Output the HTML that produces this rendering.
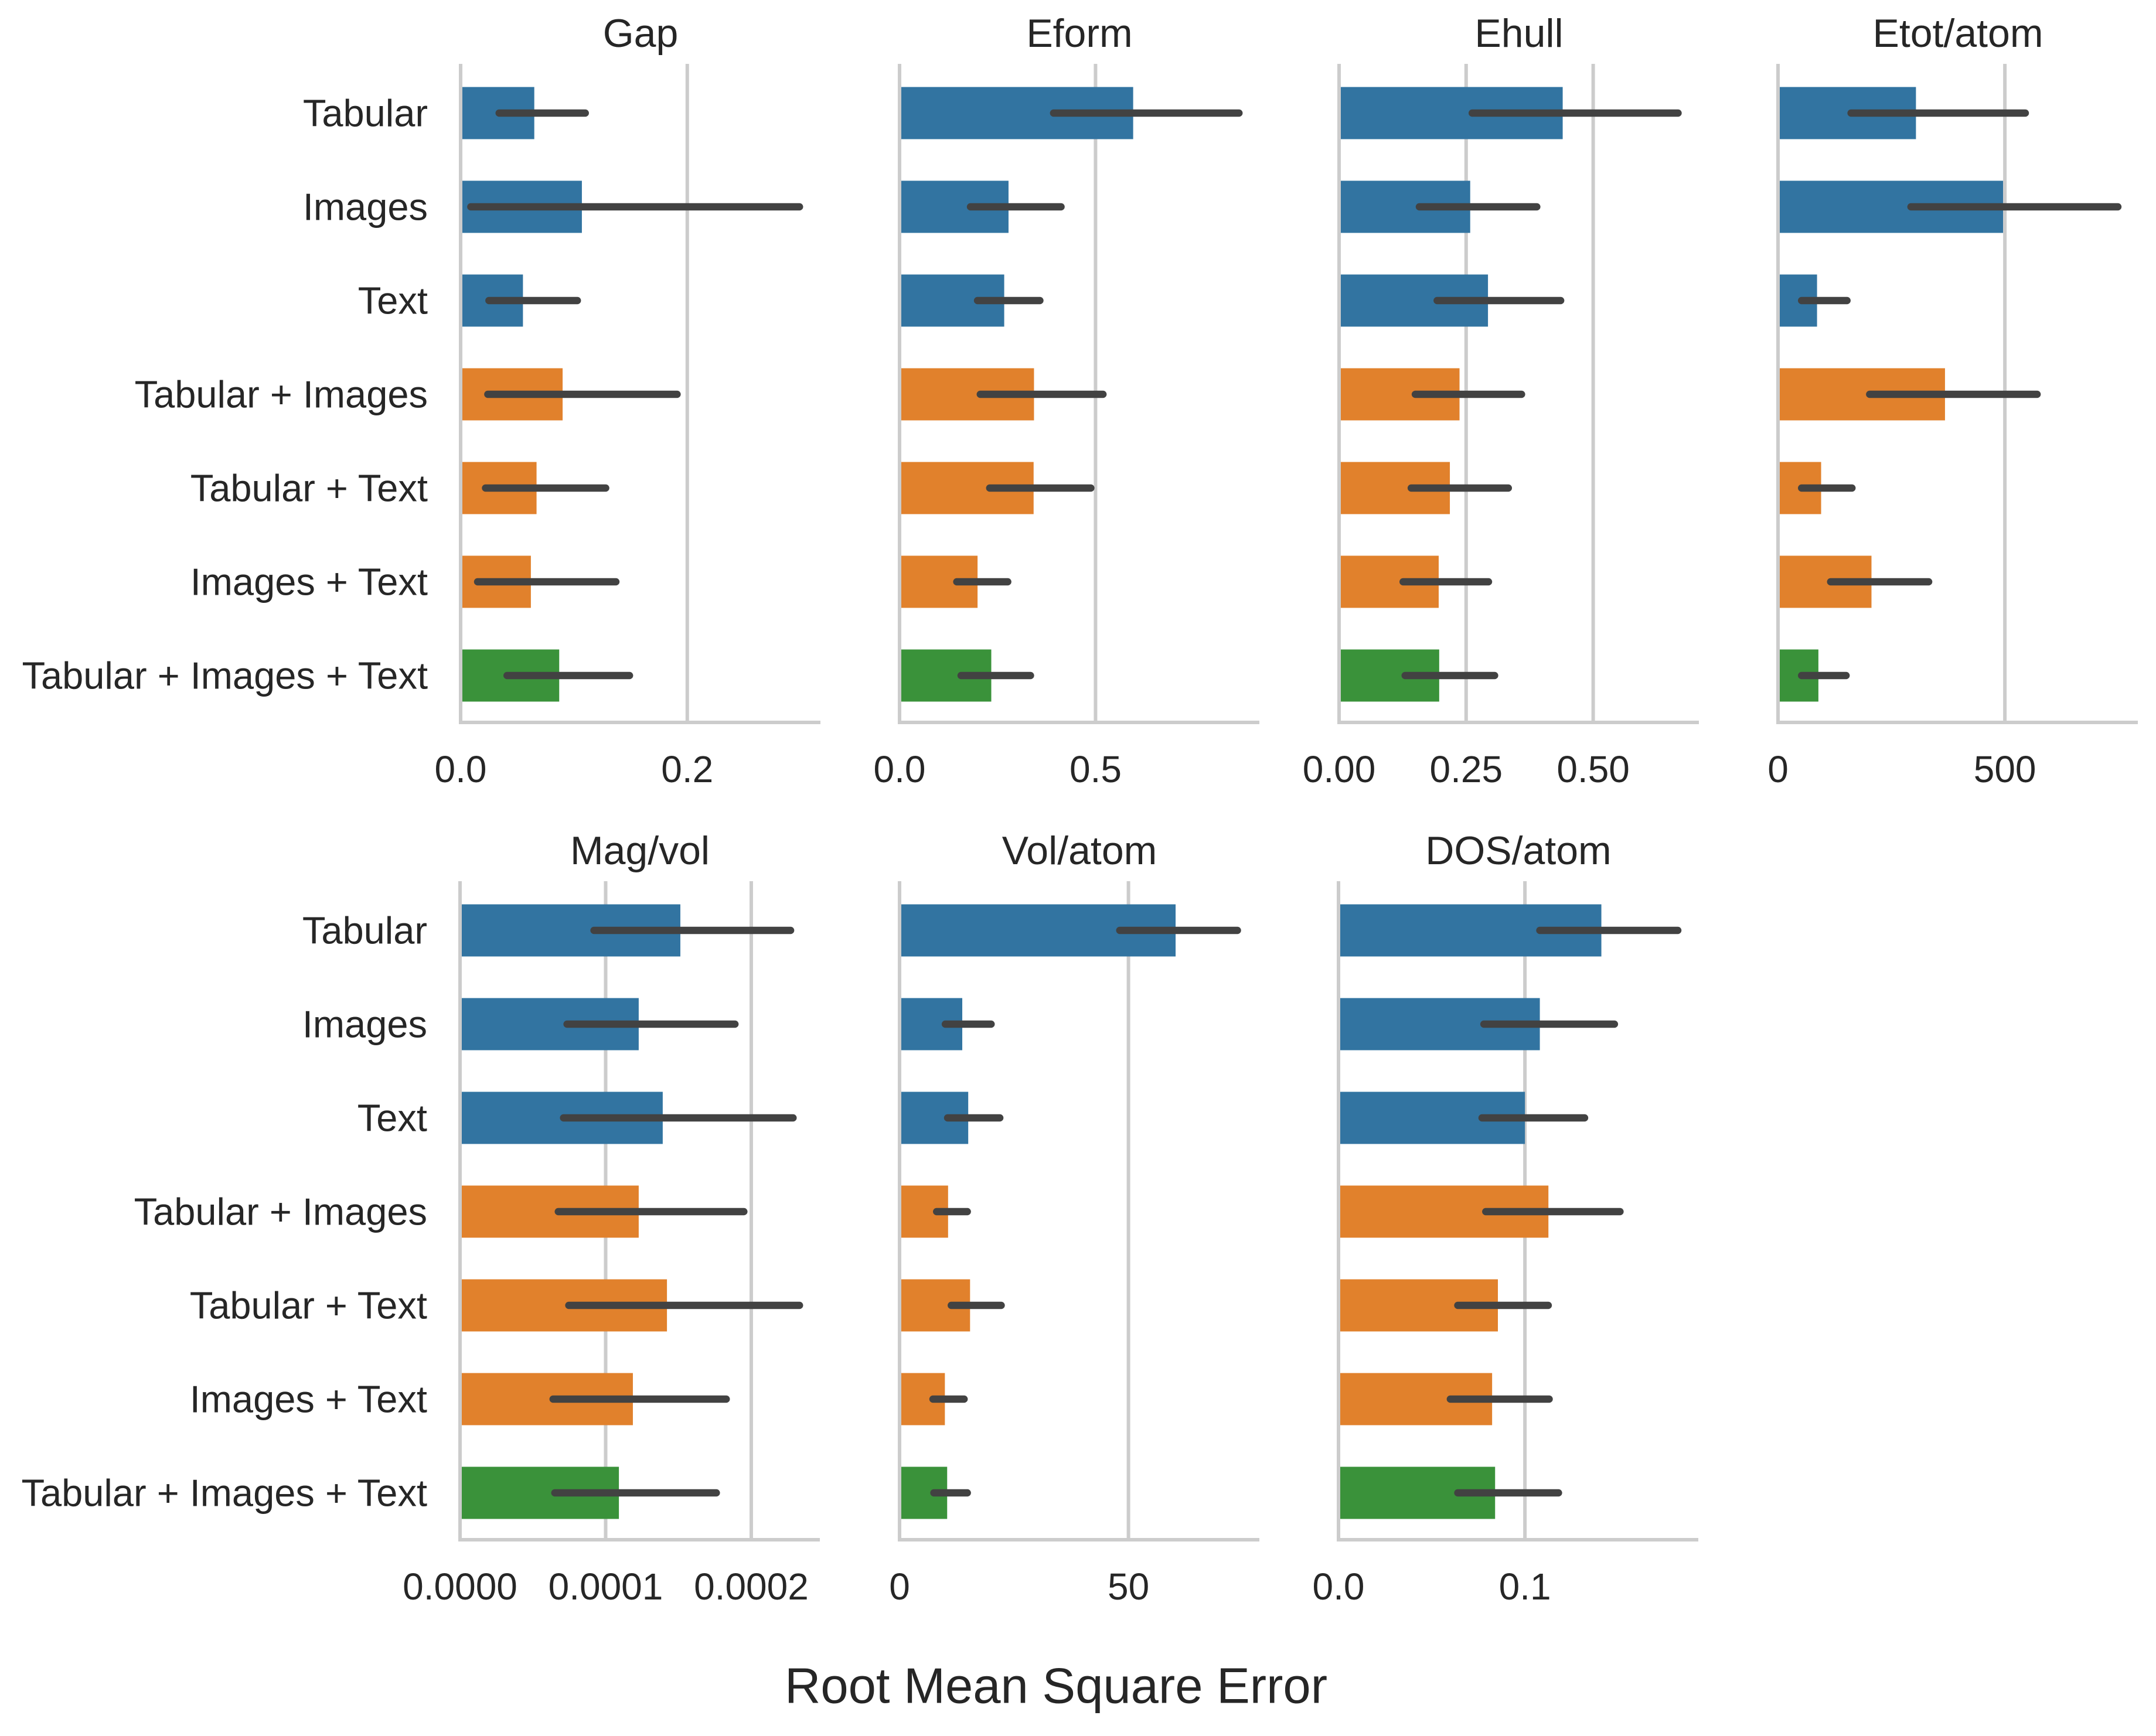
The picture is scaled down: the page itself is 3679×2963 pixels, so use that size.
<!DOCTYPE html>
<html>
<head>
<meta charset="utf-8">
<style>
html,body{margin:0;padding:0;background:#fff;}
svg{display:block;}
text{font-family:"Liberation Sans",Arial,sans-serif;fill:#262626;}
</style>
</head>
<body>
<svg id="chart" width="3679" height="2963" viewBox="0 0 3679 2963" xmlns="http://www.w3.org/2000/svg">
<text x="1802" y="2878" font-size="85" text-anchor="middle" dominant-baseline="central">Root Mean Square Error</text>
</svg>
<script>
const categories = ["Tabular","Images","Text","Tabular + Images","Tabular + Text","Images + Text","Tabular + Images + Text"];
const groups = [0,0,0,1,1,1,2];
const groupColors = ["#3274a1","#e1812c","#3a923a"];

const panelTitles = ["Gap","Eform","Ehull","Etot/atom","Mag/vol","Vol/atom","DOS/atom"];

const gapMeans = [0.065,0.107,0.055,0.090,0.067,0.062,0.087];
const gapLo    = [0.034,0.009,0.025,0.024,0.022,0.015,0.041];
const gapHi    = [0.110,0.299,0.103,0.191,0.128,0.137,0.149];

const eformMeans = [0.596,0.278,0.267,0.343,0.342,0.199,0.234];
const eformLo    = [0.393,0.181,0.199,0.206,0.230,0.146,0.157];
const eformHi    = [0.866,0.412,0.358,0.519,0.488,0.276,0.334];

const ehullMeans = [0.440,0.258,0.293,0.237,0.218,0.196,0.197];
const ehullLo    = [0.262,0.158,0.193,0.150,0.142,0.126,0.130];
const ehullHi    = [0.667,0.389,0.436,0.359,0.333,0.294,0.306];

const etotMeans = [304,496,86,368,95,206,89];
const etotLo    = [161,293,52,202,52,116,52];
const etotHi    = [545,749,152,571,163,332,150];

const magMeans = [1.513e-4,1.227e-4,1.392e-4,1.227e-4,1.421e-4,1.187e-4,1.091e-4];
const magLo    = [0.92e-4,0.735e-4,0.711e-4,0.675e-4,0.747e-4,0.639e-4,0.651e-4];
const magHi    = [2.27e-4,1.888e-4,2.287e-4,1.949e-4,2.331e-4,1.828e-4,1.76e-4];

const volMeans = [60.3,13.7,15.0,10.6,15.4,9.9,10.4];
const volLo    = [48.1,10.0,10.5,8.1,11.3,7.3,7.5];
const volHi    = [73.8,20.0,21.9,14.8,22.2,14.1,14.8];

const dosMeans = [0.141,0.108,0.100,0.1126,0.0855,0.0824,0.084];
const dosLo    = [0.108,0.078,0.077,0.079,0.064,0.060,0.064];
const dosHi    = [0.182,0.148,0.132,0.151,0.1125,0.113,0.118];

const gapTicks = [0,0.2];
const gapTickLabels = ["0.0","0.2"];
const eformTicks = [0,0.5];
const eformTickLabels = ["0.0","0.5"];
const ehullTicks = [0,0.25,0.5];
const ehullTickLabels = ["0.00","0.25","0.50"];
const etotTicks = [0,500];
const etotTickLabels = ["0","500"];
const magTicks = [0,0.0001,0.0002];
const magTickLabels = ["0.0000","0.0001","0.0002"];
const volTicks = [0,50];
const volTickLabels = ["0","50"];
const dosTicks = [0,0.1];
const dosTickLabels = ["0.0","0.1"];

const axisMax = [0.3175,0.918,0.708,793,2.471e-4,78.6,0.193];

const panels = [
  {means:gapMeans,lo:gapLo,hi:gapHi,ticks:gapTicks,labels:gapTickLabels,x0:786,y0:113,showY:true},
  {means:eformMeans,lo:eformLo,hi:eformHi,ticks:eformTicks,labels:eformTickLabels,x0:1535,y0:113,showY:false},
  {means:ehullMeans,lo:ehullLo,hi:ehullHi,ticks:ehullTicks,labels:ehullTickLabels,x0:2285,y0:113,showY:false},
  {means:etotMeans,lo:etotLo,hi:etotHi,ticks:etotTicks,labels:etotTickLabels,x0:3034,y0:113,showY:false},
  {means:magMeans,lo:magLo,hi:magHi,ticks:magTicks,labels:magTickLabels,x0:785,y0:1508,showY:true},
  {means:volMeans,lo:volLo,hi:volHi,ticks:volTicks,labels:volTickLabels,x0:1535,y0:1508,showY:false},
  {means:dosMeans,lo:dosLo,hi:dosHi,ticks:dosTicks,labels:dosTickLabels,x0:2284,y0:1508,showY:false}
];

const NS = "http://www.w3.org/2000/svg";
const svg = document.getElementById("chart");
const W = 614, BAND = 160, BARH = 89;
function mk(tag, attrs, parent){
  const e = document.createElementNS(NS, tag);
  for (const k in attrs) e.setAttribute(k, attrs[k]);
  (parent||svg).appendChild(e);
  return e;
}

panels.forEach((p, pi) => {
  const g = mk("g", {});
  
  
  const xs = v => p.x0 + v / axisMax[pi] * W;
  const yc = i => p.y0 + BAND/2 + i*BAND;
  const yBottom = p.y0 + 7*BAND;

  p.ticks.forEach((t, ti) => {
    const x = xs(t);
    if (t !== 0) {
      const gl = mk("line", {x1:x, x2:x, y1:p.y0-4, y2:yBottom, stroke:"#cccccc", "stroke-width":6}, g);
      
      
    }
    const tl = mk("text", {x:x, y:yBottom+80, "font-size":64, "text-anchor":"middle", "dominant-baseline":"central"}, g);
    tl.textContent = p.labels[ti];
    
    
  });

  const tt = mk("text", {x:p.x0 + W/2, y:p.y0-56, "font-size":68, "text-anchor":"middle", "dominant-baseline":"central"}, g);
  tt.textContent = panelTitles[pi];
  
  

  p.means.forEach((m, i) => {
    const r = mk("rect", {x:xs(0), y:yc(i)-BARH/2, width:xs(m)-xs(0), height:BARH, fill:groupColors[groups[i]]}, g);
    
    
  });
  p.means.forEach((m, i) => {
    const l = mk("line", {x1:xs(p.lo[i]), x2:xs(p.hi[i]), y1:yc(i), y2:yc(i), stroke:"#424242", "stroke-width":12.5, "stroke-linecap":"round"}, g);
    
    
  });

  const ls = mk("line", {x1:p.x0, x2:p.x0, y1:p.y0-4, y2:yBottom+3, stroke:"#cccccc", "stroke-width":6}, g);
  
  
  const bs = mk("line", {x1:p.x0-3, x2:p.x0+W, y1:yBottom, y2:yBottom, stroke:"#cccccc", "stroke-width":6}, g);
  
  

  if (p.showY) {
    categories.forEach((c, i) => {
      const t = mk("text", {x:p.x0-56, y:yc(i), "font-size":65, "text-anchor":"end", "dominant-baseline":"central"}, g);
      t.textContent = c;
      
      
    });
  }
});
</script>
</body>
</html>
